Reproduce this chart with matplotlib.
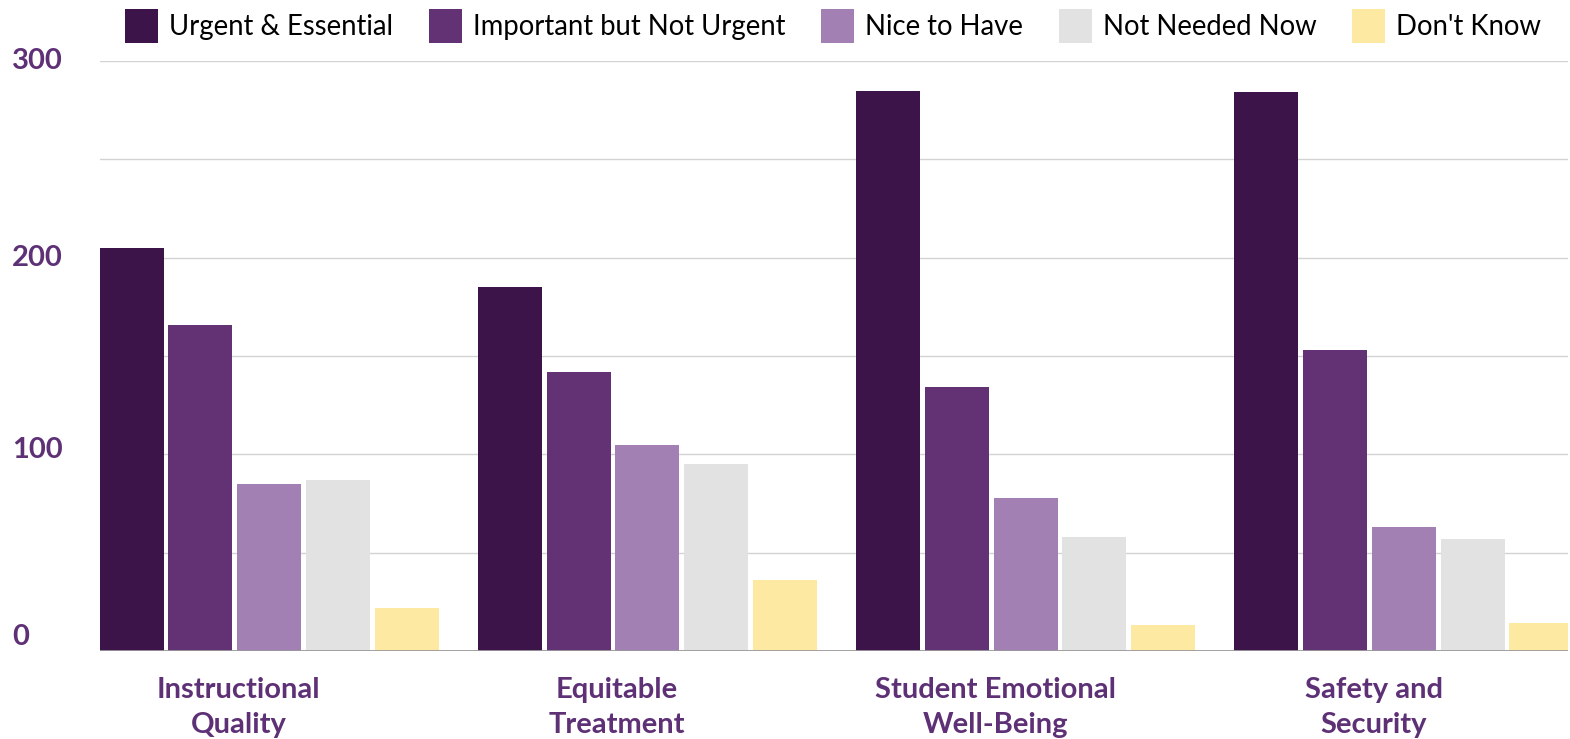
import matplotlib
matplotlib.use("Agg")
import matplotlib.pyplot as plt
import matplotlib.transforms as mtransforms
import numpy as np

categories = ["Instructional\nQuality", "Equitable\nTreatment", "Student Emotional\nWell-Being", "Safety and\nSecurity"]
series_names = ["Urgent & Essential", "Important but Not Urgent", "Nice to Have", "Not Needed Now", "Don't Know"]
urgent = [205, 185, 285, 284]
important = [166, 142, 134, 153]
nice = [85, 105, 78, 63]
not_needed = [87, 95, 58, 57]
dont_know = [22, 36, 13, 14]
y_ticks = [0, 100, 200, 300]

colors = ["#3C1449", "#623275", "#A380B3", "#E2E2E2", "#FDE9A2"]
label_color = "#5E3176"

plt.rcParams['font.family'] = ['Lato', 'DejaVu Sans']

W, H = 1570, 739
fig = plt.figure(figsize=(W / 100, H / 100), dpi=100)
ax = fig.add_axes([100 / W, (H - 651) / H, (1568 - 100) / W, (651 - 61) / H])

series = [urgent, important, nice, not_needed, dont_know]
x = np.arange(len(categories))
pitch = 68.75 / 378.3
width = 64 / 378.3
for i, (vals, name, c) in enumerate(zip(series, series_names, colors)):
    ax.bar(x + (i - 2) * pitch, vals, width=width, color=c, label=name, zorder=3)

ax.set_xlim((100 - 269) / 378.3, (1568 - 269) / 378.3)
ax.set_ylim(0, 300)
for yv in range(50, 301, 50):
    ax.axhline(yv, color="#D3D3D3", lw=1.0, zorder=1)
ax.axhline(0, color="#9A9A9A", lw=1.3, zorder=4)

for s in ax.spines.values():
    s.set_visible(False)
ax.set_xticks([])
ax.set_yticks([])

# y labels
ytrans = mtransforms.blended_transform_factory(fig.transFigure, ax.transData)
for yv in y_ticks:
    off = 7 if yv == 0 else (2 if yv == 100 else 0)
    ax.text(12 / W, yv + off, str(yv), transform=ytrans,
            ha="left", va="center", fontsize=21, fontweight="bold", color=label_color)

# category labels
for xi, cat in zip(x, categories):
    ax.text(xi - 0.08, -13, cat, ha="center", va="top", fontsize=21, fontweight="bold",
            color=label_color, linespacing=1.47)

fig.legend(loc="center", bbox_to_anchor=(833 / W, 1 - 26 / H), ncol=5, frameon=False,
           fontsize=19.8, handlelength=1.2, handleheight=1.5, handletextpad=0.4,
           columnspacing=1.3, borderaxespad=0, borderpad=0)

fig.savefig("out.png", dpi=100)
